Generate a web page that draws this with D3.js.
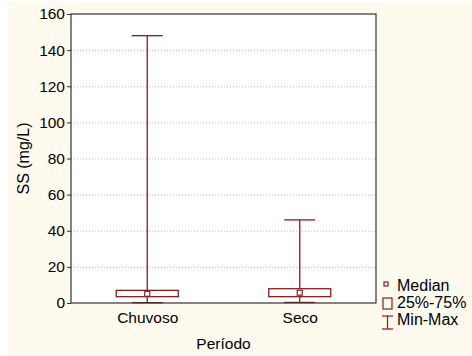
<!DOCTYPE html>
<html>
<head>
<meta charset="utf-8">
<script src="https://cdn.jsdelivr.net/npm/d3@7"></script>
<style>
  body { margin: 0; background: #fff; }
  svg { display: block; font-family: "Liberation Sans", Arial, sans-serif; }
</style>
</head>
<body>
<svg id="chart" width="472" height="356"></svg>
<script>
// data
const categories = ['Chuvoso', 'Seco'];
const minVals = [0.2, 0.3];
const q1Vals = [3.5, 3.5];
const medianVals = [5.1, 5.7];
const q3Vals = [7.0, 7.9];
const maxVals = [148, 46];
const yTicks = [0, 20, 40, 60, 80, 100, 120, 140, 160];
const legendItems = ['Median', '25%-75%', 'Min-Max'];

const red = '#8c1c1c';
const margin = {left: 71, top: 14, right: 96, bottom: 53};
const W = 472, H = 356;
const font = '"Liberation Sans", Arial, sans-serif';

const svg = d3.select('#chart');

svg.append('rect')
  .attr('x', 8).attr('y', 2)
  .attr('width', W - 8).attr('height', H - 2)
  .attr('fill', '#fffaee');

const x = d3.scalePoint()
  .domain(categories)
  .range([margin.left, W - margin.right])
  .padding(0.5);

const y = d3.scaleLinear()
  .domain([0, 160])
  .range([H - margin.bottom, margin.top]);

svg.append('rect')
  .attr('x', margin.left).attr('y', margin.top)
  .attr('width', W - margin.right - margin.left)
  .attr('height', H - margin.bottom - margin.top)
  .attr('fill', '#fff');

// gridlines
svg.append('g')
  .selectAll('line')
  .data(yTicks.slice(1, -1))
  .join('line')
  .attr('x1', margin.left).attr('x2', W - margin.right)
  .attr('y1', function(d){ return y(d) + 0.5; })
  .attr('y2', function(d){ return y(d) + 0.5; })
  .attr('stroke', '#bbb')
  .attr('stroke-dasharray', '1,2');

const yAxis = svg.append('g')
  .attr('transform', 'translate(' + margin.left + ',0)')
  .call(d3.axisLeft(y).tickValues(yTicks).tickSize(4).tickPadding(2));
yAxis.select('.domain').remove();
yAxis.selectAll('line').attr('stroke', '#333');
yAxis.selectAll('text').attr('font-size', 15.5).attr('fill', '#000')
  .attr('font-family', font);

const xAxis = svg.append('g')
  .attr('transform', 'translate(0,' + (H - margin.bottom) + ')')
  .call(d3.axisBottom(x).tickSize(0).tickPadding(9));
xAxis.select('.domain').remove();
xAxis.selectAll('text').attr('font-size', 15.5).attr('fill', '#000')
  .attr('font-family', font);

const boxW = 62, capW = 31;

const boxes = svg.append('g')
  .selectAll('g')
  .data(categories)
  .join('g');

boxes.append('line')
  .attr('x1', function(d){ return x(d); })
  .attr('x2', function(d){ return x(d); })
  .attr('y1', function(d, i){ return y(minVals[i]); })
  .attr('y2', function(d, i){ return y(maxVals[i]); })
  .attr('stroke', red).attr('stroke-width', 1.3);

boxes.append('line')
  .attr('x1', function(d){ return x(d) - capW / 2; })
  .attr('x2', function(d){ return x(d) + capW / 2; })
  .attr('y1', function(d, i){ return y(maxVals[i]); })
  .attr('y2', function(d, i){ return y(maxVals[i]); })
  .attr('stroke', red).attr('stroke-width', 1.3);

boxes.append('line')
  .attr('x1', function(d){ return x(d) - capW / 2; })
  .attr('x2', function(d){ return x(d) + capW / 2; })
  .attr('y1', function(d, i){ return y(minVals[i]); })
  .attr('y2', function(d, i){ return y(minVals[i]); })
  .attr('stroke', red).attr('stroke-width', 1.3);

boxes.append('rect')
  .attr('x', function(d){ return x(d) - boxW / 2; })
  .attr('y', function(d, i){ return y(q3Vals[i]); })
  .attr('width', boxW)
  .attr('height', function(d, i){ return y(q1Vals[i]) - y(q3Vals[i]); })
  .attr('fill', '#fff')
  .attr('stroke', red).attr('stroke-width', 1.3);

boxes.append('rect')
  .attr('x', function(d){ return x(d) - 2.5; })
  .attr('y', function(d, i){ return y(medianVals[i]) - 2.5; })
  .attr('width', 5).attr('height', 5)
  .attr('fill', '#fff')
  .attr('stroke', red).attr('stroke-width', 1.2);

// frame
svg.append('rect')
  .attr('x', margin.left).attr('y', margin.top)
  .attr('width', W - margin.right - margin.left)
  .attr('height', H - margin.bottom - margin.top)
  .attr('fill', 'none')
  .attr('stroke', '#333').attr('stroke-width', 1.2);

svg.append('text')
  .attr('transform', 'translate(29,' + ((margin.top + H - margin.bottom) / 2) + ') rotate(-90)')
  .attr('text-anchor', 'middle')
  .attr('font-size', 16)
  .text('SS (mg/L)');

svg.append('text')
  .attr('x', (margin.left + W - margin.right) / 2)
  .attr('y', 349)
  .attr('text-anchor', 'middle')
  .attr('font-size', 15.5)
  .text('Período');

// legend
const lg = svg.append('g').attr('transform', 'translate(380,0)');
lg.append('rect')
  .attr('x', 4).attr('y', 282).attr('width', 4).attr('height', 4)
  .attr('fill', '#fff').attr('stroke', red).attr('stroke-width', 1.2);
lg.append('rect')
  .attr('x', 3).attr('y', 298).attr('width', 9).attr('height', 11)
  .attr('fill', 'none').attr('stroke', red).attr('stroke-width', 1.2);
lg.append('line')
  .attr('x1', 7.5).attr('x2', 7.5).attr('y1', 316).attr('y2', 329)
  .attr('stroke', red).attr('stroke-width', 1.2);
lg.append('line')
  .attr('x1', 2).attr('x2', 13).attr('y1', 316).attr('y2', 316)
  .attr('stroke', red).attr('stroke-width', 1.2);
lg.append('line')
  .attr('x1', 2).attr('x2', 13).attr('y1', 329).attr('y2', 329)
  .attr('stroke', red).attr('stroke-width', 1.2);

lg.selectAll('text.leg')
  .data(legendItems)
  .join('text')
  .attr('class', 'leg')
  .attr('x', 17)
  .attr('y', function(d, i){ return 291 + i * 17; })
  .attr('font-size', 16)
  .text(function(d){ return d; });
</script>
</body>
</html>
